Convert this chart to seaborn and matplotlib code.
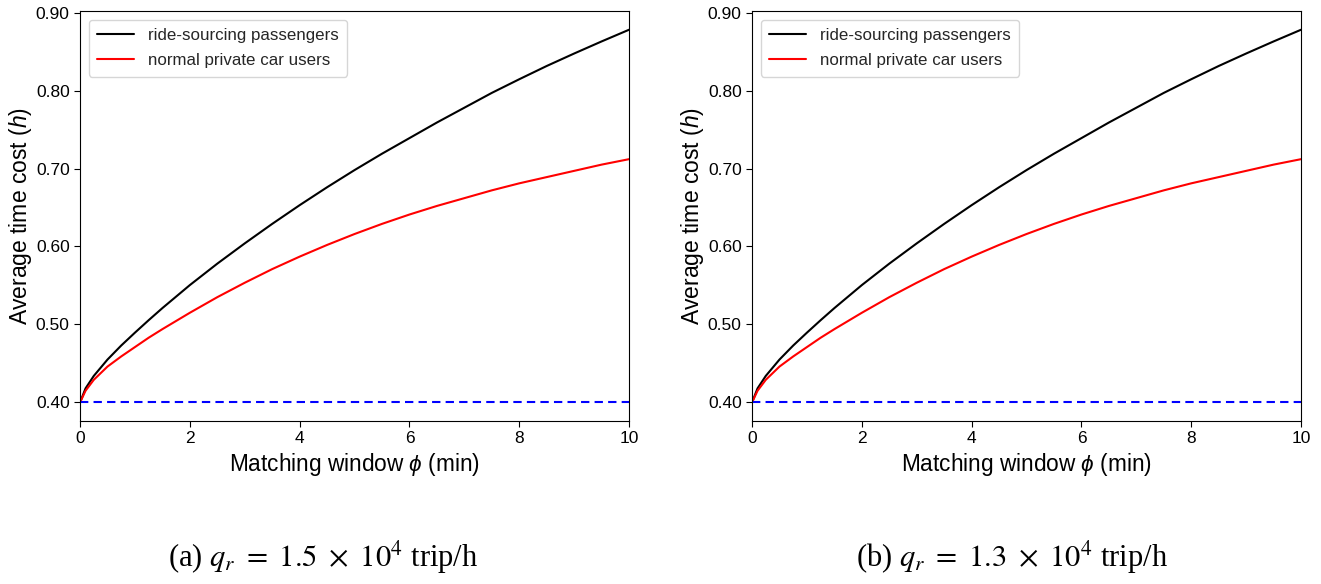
import numpy as np
import pandas as pd
import matplotlib
matplotlib.use("Agg")
import matplotlib.pyplot as plt
import seaborn as sns

# Matching window (min)
phi = [0.0, 0.1, 0.25, 0.5, 0.75, 1.0, 1.25, 1.5, 2.0, 2.5, 3.0, 3.5, 4.0, 4.5,
       5.0, 5.5, 6.0, 6.5, 7.0, 7.5, 8.0, 8.5, 9.0, 9.5, 10.0]

# Average time cost (h), q_r = 1.5e4 trip/h
ride_a = [0.400, 0.418, 0.434, 0.455, 0.473, 0.4895, 0.5055, 0.521, 0.5505, 0.578, 0.604,
          0.629, 0.653, 0.676, 0.698, 0.719, 0.739, 0.759, 0.778, 0.797, 0.8145, 0.8315,
          0.8475, 0.863, 0.878]
car_a = [0.400, 0.415, 0.429, 0.446, 0.459, 0.471, 0.483, 0.494, 0.515, 0.535, 0.5535,
         0.571, 0.587, 0.602, 0.616, 0.629, 0.641, 0.652, 0.662, 0.672, 0.681, 0.689,
         0.697, 0.705, 0.712]

# Average time cost (h), q_r = 1.3e4 trip/h
ride_b = [0.400, 0.418, 0.434, 0.455, 0.473, 0.4895, 0.5055, 0.521, 0.5505, 0.578, 0.604,
          0.629, 0.653, 0.676, 0.698, 0.719, 0.739, 0.759, 0.778, 0.797, 0.8145, 0.8315,
          0.8475, 0.863, 0.878]
car_b = [0.400, 0.415, 0.429, 0.446, 0.459, 0.471, 0.483, 0.494, 0.515, 0.535, 0.5535,
         0.571, 0.587, 0.602, 0.616, 0.629, 0.641, 0.652, 0.662, 0.672, 0.681, 0.689,
         0.697, 0.705, 0.712]

baseline = 0.40

series_names = ["ride-sourcing passengers", "normal private car users"]
captions = [r"(a) $q_r\ =\ 1.5\ \times\ 10^4$ trip/h",
            r"(b) $q_r\ =\ 1.3\ \times\ 10^4$ trip/h"]
y_ticks = [0.40, 0.50, 0.60, 0.70, 0.80, 0.90]
x_ticks = [0, 2, 4, 6, 8, 10]

sns.set_style("ticks")
plt.rcParams["font.family"] = ["Liberation Sans", "DejaVu Sans"]
plt.rcParams["mathtext.fontset"] = "custom"
plt.rcParams["mathtext.rm"] = "Liberation Sans"
plt.rcParams["mathtext.it"] = "Liberation Sans:italic"

fig = plt.figure(figsize=(13.21, 5.84), dpi=100)
ax_a = fig.add_axes([0.0606, 0.279, 0.4156, 0.702])
ax_b = fig.add_axes([0.5693, 0.279, 0.4156, 0.702])

palette = {series_names[0]: "black", series_names[1]: "red"}

for ax, ride, car, cap, cx in [(ax_a, ride_a, car_a, captions[0], 0.245),
                               (ax_b, ride_b, car_b, captions[1], 0.766)]:
    df = pd.DataFrame({
        "phi": phi * 2,
        "cost": ride + car,
        "group": [series_names[0]] * len(phi) + [series_names[1]] * len(phi),
    })
    sns.lineplot(data=df, x="phi", y="cost", hue="group", palette=palette,
                 linewidth=1.5, ax=ax, legend=True)
    ax.axhline(baseline, color="blue", linestyle="--", linewidth=1.5, dashes=(4, 2.5))
    ax.set_xlim(0, 10)
    ax.set_ylim(0.3761, 0.9019)
    ax.set_xticks(x_ticks)
    ax.set_yticks(y_ticks)
    ax.set_yticklabels([f"{v:.2f}" for v in y_ticks])
    ax.tick_params(labelsize=12.5, length=4, width=0.8, color="black", labelcolor="black")
    for s in ax.spines.values():
        s.set_color("black")
        s.set_linewidth(0.8)
    ax.set_xlabel(r"Matching window $\phi$ (min)", fontsize=16.3, color="black", labelpad=3)
    ax.set_ylabel(r"Average time cost ($h$)", fontsize=16.5, color="black", labelpad=1)
    leg = ax.legend(loc="upper left", fontsize=12.2, frameon=True, handlelength=2.2,
                    borderpad=0.5, labelspacing=0.6)
    leg.get_frame().set_edgecolor("#cccccc")
    fig.text(cx, 0.046, cap, ha="center", va="center", fontsize=22,
             family="Liberation Serif", math_fontfamily="stix", color="black")

fig.savefig("out.png", dpi=100, facecolor="white")
